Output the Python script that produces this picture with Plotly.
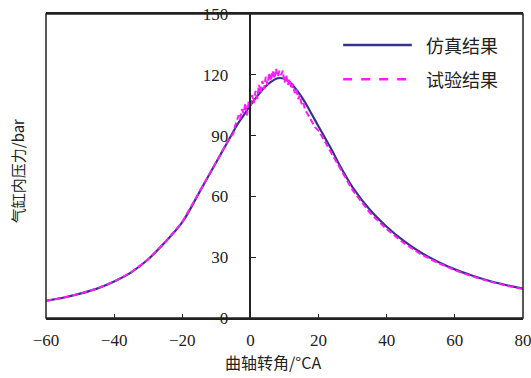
import plotly.graph_objects as go

# Crank angle (°CA) and simulated cylinder pressure (bar)
sim_x = [-60, -55, -50, -45, -40, -35, -30, -25, -20, -15, -10, -8, -6, -4, -2, 0,
         2, 4, 6, 8, 10, 12, 14, 16, 18, 20, 22, 24, 26, 28, 30, 35, 40, 45, 50,
         55, 60, 65, 70, 75, 80]
sim_y = [8.5, 10, 12, 14.5, 18, 22.5, 29, 37.5, 47.3, 62, 77, 83, 89, 95, 100, 105,
         109.5, 113.5, 116.5, 118.3, 118, 115.5, 111.5, 106.5, 100.5, 94.5, 88.5, 82.5, 76,
         70, 64.5, 53.5, 45, 38, 32.3, 27.8, 24, 21, 18.4, 16.3, 14.5]

# Experimental cylinder pressure (bar)
exp_x = [-60, -55, -50, -45, -40, -35, -30, -25, -20, -15, -10, -8, -6, -5, -4.5, -4, -3.5,
         -3, -2.5, -2, -1.5, -1, -0.5, 0, 0.5, 1, 1.5, 2, 2.5, 3, 3.5, 4, 4.5, 5, 5.5, 6,
         6.5, 7, 7.5, 8, 8.5, 9, 9.5, 10, 10.5, 11, 11.5, 12, 12.5, 13, 13.5, 14, 14.5, 15,
         15.5, 16, 17, 18, 19, 20, 22, 24, 26, 28, 30, 35, 40, 45, 50, 55, 60, 65, 70, 75, 80]
exp_y = [8.5, 10, 12, 14.5, 18, 22.5, 29, 37.5, 47.3, 62, 77, 83, 89, 91, 95, 97, 100,
         98, 103, 101, 106, 100, 107, 103, 110, 106, 112, 108, 115, 111, 117, 113, 119, 115, 121,
         117, 122, 118, 123, 119, 122, 120, 122, 116, 120, 115, 118, 113, 115.5, 111, 113, 108, 110,
         105.5, 106.5, 103, 100, 97.5, 94, 92.5, 86.5, 80.5, 74.5, 68.5, 63, 52, 43.8, 37, 31.5,
         27.2, 23.6, 20.6, 18.1, 16, 14.3]

x_ticks = [-60, -40, -20, 0, 20, 40, 60, 80]
y_ticks = [0, 30, 60, 90, 120, 150]
series_names = ["仿真结果", "试验结果"]
series_colors = ["#35348a", "#ff1aff"]

fig = go.Figure()
fig.add_trace(go.Scatter(x=sim_x, y=sim_y, mode="lines", name=series_names[0],
                         line=dict(color=series_colors[0], width=2.2, shape="spline")))
fig.add_trace(go.Scatter(x=exp_x, y=exp_y, mode="lines", name=series_names[1],
                         line=dict(color=series_colors[1], width=2, dash="6px,3px")))

tick_font = dict(family="Liberation Serif, Times New Roman, serif", size=17, color="#222")
cjk = "Noto Sans CJK SC"
fig.update_layout(
    width=531, height=378,
    margin=dict(l=46, r=8, t=14, b=60, autoexpand=False),
    paper_bgcolor="white", plot_bgcolor="white",
    showlegend=False,
    xaxis=dict(range=[-60, 80], tickvals=x_ticks, ticks="inside", ticklen=4,
               tickcolor="#222", showgrid=False, zeroline=False,
               showline=True, linecolor="#222", linewidth=1.5, mirror=True,
               tickfont=tick_font, ticklabelstandoff=6, ticklabeloverflow="allow",
               automargin=False),
    yaxis=dict(range=[0, 150], tickvals=y_ticks, ticks="inside", ticklen=5,
               tickcolor="#222", showgrid=False, zeroline=False,
               anchor="free", position=60 / 140, automargin=False,
               showline=True, linecolor="#222", linewidth=1.5,
               tickfont=tick_font, ticklabelstandoff=18),
)
fig.add_shape(type="rect", xref="paper", yref="paper", x0=0, y0=0, x1=1, y1=1,
              line=dict(color="#222", width=1.5), layer="above")

# legend (drawn manually for longer samples)
leg_y = [0.898, 0.785]
leg_dash = ["solid", "dash"]
for name, col, yy, dsh in zip(series_names, series_colors, leg_y, leg_dash):
    fig.add_shape(type="line", xref="paper", yref="paper", x0=0.623, x1=0.767, y0=yy, y1=yy,
                  line=dict(color=col, width=2.5, dash=dsh))
    fig.add_annotation(text=name, xref="paper", yref="paper", x=0.793, y=yy, xanchor="left",
                       yanchor="middle", showarrow=False,
                       font=dict(family=cjk, size=18, color="#222"))

fig.add_annotation(text="曲轴转角/°CA", xref="paper", yref="paper", x=0.476, y=-0.145,
                   xanchor="center", yanchor="middle", showarrow=False,
                   font=dict(family=cjk, size=16, color="#222"))
fig.add_annotation(text="气缸内压力/bar", xref="paper", yref="paper", x=-0.06, y=0.484,
                   xanchor="center", yanchor="middle", textangle=-90, showarrow=False,
                   font=dict(family=cjk, size=15, color="#222"))
fig.write_html("out.html", config={"displayModeBar": False},
               post_script="document.body.style.margin='0';document.body.style.overflow='hidden';")
